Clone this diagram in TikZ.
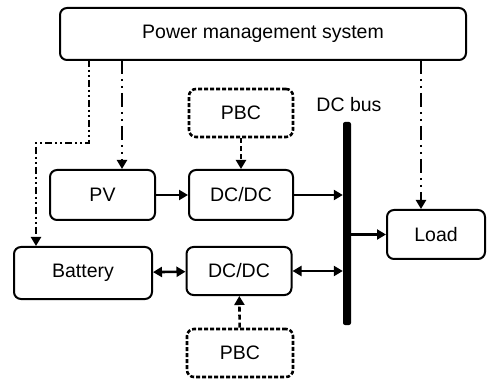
\documentclass[tikz,border=0pt]{standalone}
\usepackage{fontspec}
\setmainfont{Liberation Sans}
\usetikzlibrary{arrows.meta, positioning, calc}

\begin{document}
\begin{tikzpicture}[
    x=1pt, y=-1pt,
    block/.style={rectangle, rounded corners=7pt, draw, line width=2pt, inner sep=0pt, align=center, font=\fontsize{19.5}{23}\selectfont},
    ctrl/.style={block, line width=2.6pt, dash pattern=on 4pt off 2pt},
    arrow/.style={-{Triangle[length=9pt, width=10pt]}, line width=2.6pt},
    biarrow/.style={{Triangle[length=9pt, width=10pt]}-{Triangle[length=9pt, width=10pt]}, line width=2.6pt},
    sigline/.style={-{Triangle[length=9pt, width=10pt]}, line width=2.6pt, dash pattern=on 14pt off 5pt on 2pt off 5pt on 2pt off 5pt},
    pbcline/.style={-{Triangle[length=9pt, width=10pt]}, line width=2.6pt, dash pattern=on 5pt off 3pt}
]
\useasboundingbox (0,0) rectangle (487,379);

% Blocks
\node[block, minimum width=406pt, minimum height=52pt] (pms) at (263,34) {Power management system};
\node[block, minimum width=105pt, minimum height=50pt] (pv) at (102.5,195) {PV};
\node[block, minimum width=104pt, minimum height=50pt] (conva) at (241,195) {DC/DC};
\node[block, minimum width=138pt, minimum height=52pt] (battery) at (83,273) {Battery};
\node[block, minimum width=105pt, minimum height=48pt] (convb) at (239,271) {DC/DC};
\node[block, minimum width=98pt, minimum height=49pt] (load) at (436,234.5) {Load};

% Controllers
\node[ctrl, minimum width=104pt, minimum height=48pt] (pbca) at (241,113) {PBC};
\node[ctrl, minimum width=106pt, minimum height=48pt] (pbcb) at (240,353) {PBC};

% DC bus
\node[rectangle, fill=black, rounded corners=2pt, minimum width=8pt, minimum height=203pt, inner sep=0pt] (bus) at (347,223.5) {};
\node[font=\fontsize{19.5}{23}\selectfont] (buslabel) at (349,105) {DC bus};

% Power flow
\draw[arrow] (pv) -- (conva);
\draw[arrow] (conva) -- (conva -| bus.west);
\draw[biarrow] (battery) -- (convb);
\draw[biarrow] (convb) -- (convb -| bus.west);
\draw[arrow] (bus.east |- load) -- (load);

% Control signals
\coordinate (pmsa) at (89,60);
\coordinate (pmsb) at (122,60);
\coordinate (pmsc) at (421,60);
\coordinate (bend) at (36,143);
\draw[sigline, dash pattern=on 7pt off 3pt on 2pt off 3pt on 2pt off 3pt] (pmsa) |- (bend) -- (bend |- battery.north);
\draw[sigline] (pmsb) -- (pmsb |- pv.north);
\draw[sigline] (pmsc) -- (pmsc |- load.north);
\draw[pbcline] (pbca) -- (conva);
\draw[pbcline] (pbcb) -- (convb);
\end{tikzpicture}
\end{document}
